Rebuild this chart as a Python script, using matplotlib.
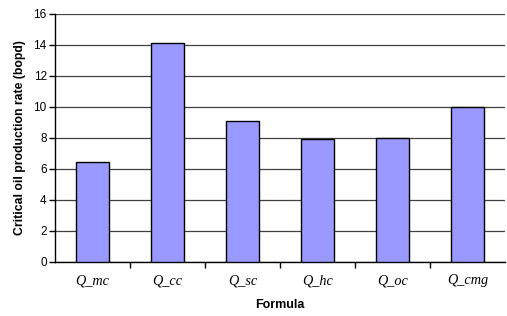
import matplotlib
matplotlib.use("Agg")
import matplotlib.pyplot as plt
import numpy as np

categories = ["Q_mc", "Q_cc", "Q_sc", "Q_hc", "Q_oc", "Q_cmg"]
values = [6.45, 14.1, 9.12, 7.92, 8.02, 9.98]
yticks = [0, 2, 4, 6, 8, 10, 12, 14, 16]

fig = plt.figure(figsize=(5.07, 3.16), dpi=100)
ax = fig.add_axes([0.1085, 0.171, 0.8875, 0.785])

x = np.arange(len(categories))
ax.bar(x, values, width=0.43, color="#9999FF", edgecolor="black", linewidth=1.0, zorder=3)

ax.set_xlim(-0.5, len(categories) - 0.5)
ax.set_ylim(0, 16)
ax.set_yticks(yticks)
ax.set_yticklabels([str(t) for t in yticks], fontfamily="Liberation Sans", fontsize=8.5)
ax.yaxis.grid(True, color="#404040", linewidth=0.9, zorder=0)

ax.set_xticks(x)
ax.set_xticklabels(categories, fontfamily="Liberation Serif", fontstyle="italic", fontsize=10.3)
ax.tick_params(axis="x", length=0, pad=9)
ax.set_xticks(np.arange(0.5, len(categories) - 0.5), minor=True)
ax.tick_params(axis="x", which="minor", length=4, direction="out", width=1)
ax.tick_params(axis="y", length=4, direction="out", width=1, pad=2)

for s in ["top", "right"]:
    ax.spines[s].set_visible(False)
ax.spines["left"].set_linewidth(1)
ax.spines["bottom"].set_linewidth(1)

ax.set_ylabel("Critical oil production rate (bopd)", fontfamily="Liberation Sans",
              fontweight="bold", fontsize=8.8, labelpad=5)
ax.set_xlabel("Formula", fontfamily="Liberation Sans", fontweight="bold", fontsize=9, labelpad=8)

fig.savefig("out.png", dpi=100)
